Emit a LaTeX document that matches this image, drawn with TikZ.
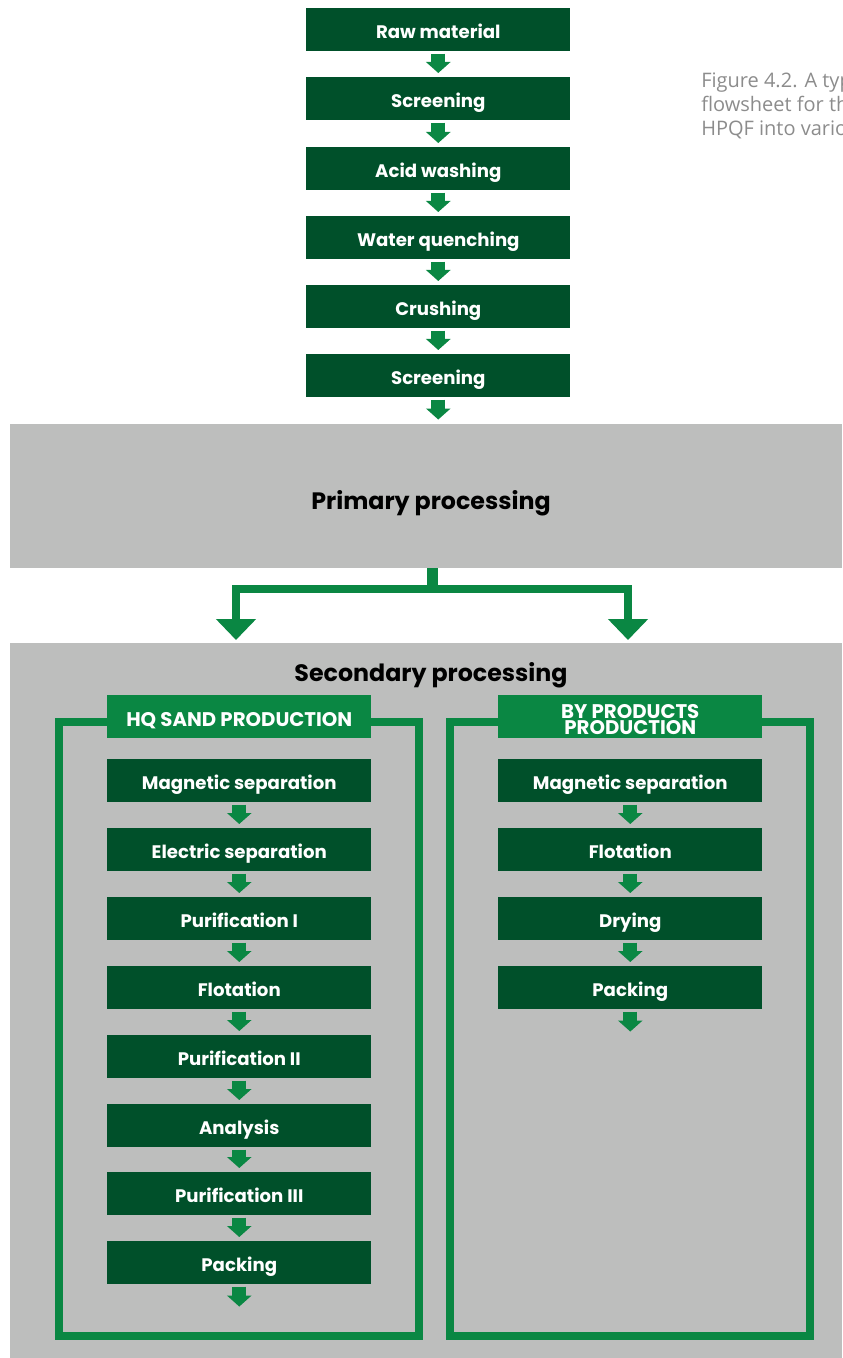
\documentclass[tikz,border=0pt]{standalone}
\usepackage{fontspec}
\setmainfont{Poppins}
\newfontfamily\capfont{Open Sans}
\usetikzlibrary{arrows.meta,calc}
\definecolor{dkgreen}{HTML}{00502A}
\definecolor{ltgreen}{HTML}{0A8743}
\definecolor{panelgray}{HTML}{BDBEBD}
\definecolor{capgray}{HTML}{8C8C8C}
\begin{document}
\begin{tikzpicture}[x=0.75pt,y=-0.75pt,
  stepbox/.style={fill=dkgreen,text=white,font=\bfseries\fontsize{13.6}{15}\selectfont,
    minimum width=198pt,minimum height=32.25pt,inner sep=0pt,anchor=north west,
    text height=13.3pt,text depth=0pt},
  headbox/.style={fill=ltgreen,text=white,font=\bfseries\fontsize{14.8}{12}\selectfont,
    minimum width=198pt,minimum height=32.25pt,inner sep=0pt,anchor=north west,align=center},
  flow/.style={draw=ltgreen,line width=10.5pt,-{Triangle[length=8.25pt,width=18pt]}},
  branch/.style={draw=ltgreen,line width=6pt,-{Triangle[length=15.75pt,width=29.25pt]}},
  frame/.style={draw=ltgreen,line width=6pt},
  graybox/.style={fill=panelgray,inner sep=0pt,anchor=north west,minimum width=624pt},
  title/.style={font=\bfseries\fontsize{17.8}{19}\selectfont,text=black}
]
\useasboundingbox (0,0) rectangle (842,1358);
\clip (0,0) rectangle (842,1358);

% caption
\node[anchor=base west,font=\capfont\fontsize{15}{18}\selectfont,text=capgray,align=left,inner sep=0pt]
  (cap) at (701,136) {Figure 4.2. A typical\\flowsheet for the\\HPQF into various};

% top chain
\node[stepbox] (t1) at (306,8) {Raw material};
\node[stepbox] (t2) at (306,77) {Screening};
\node[stepbox] (t3) at (306,147) {Acid washing};
\node[stepbox] (t4) at (306,216) {Water quenching};
\node[stepbox] (t5) at (306,285) {Crushing};
\node[stepbox] (t6) at (306,354) {Screening};

% primary
\node[graybox,minimum height=108pt] (prim) at (10,424) {};
\node[title] (primt) at (431,503) {Primary processing};

\foreach \a/\b in {t1/t2,t2/t3,t3/t4,t4/t5,t5/t6}
  \draw[flow] ($(\a.south)+(0,2)$) -- ($(\b.north)+(0,-4)$);
\draw[flow] ($(t6.south)+(0,2)$) -- ($(t6.south)+(0,22)$);

% secondary
\node[graybox,minimum height=536.25pt] (sec) at (10,643) {};
\node[title] (sect) at (431,675) {Secondary processing};

% branch
\coordinate (bj) at (432,589);
\draw[draw=ltgreen,line width=8.25pt] (432,568) -- (432,592);
\draw[branch] (bj) -| (236,640);
\draw[branch] (bj) -| (628,640);

% frames
\draw[frame] (59,722) rectangle (419,1336);
\draw[frame] (450,722) rectangle (810,1336);

% left panel
\node[headbox,text height=14.2pt,text depth=0pt] (hl) at (107,695) {HQ SAND PRODUCTION};
\node[stepbox] (l1) at (107,759) {Magnetic separation};
\node[stepbox] (l2) at (107,828) {Electric separation};
\node[stepbox] (l3) at (107,897) {Purification I};
\node[stepbox] (l4) at (107,966) {Flotation};
\node[stepbox] (l5) at (107,1035) {Purification II};
\node[stepbox] (l6) at (107,1104) {Analysis};
\node[stepbox] (l7) at (107,1172) {Purification III};
\node[stepbox] (l8) at (107,1241) {Packing};
\foreach \a/\b in {l1/l2,l2/l3,l3/l4,l4/l5,l5/l6,l6/l7,l7/l8}
  \draw[flow] ($(\a.south)+(0,2)$) -- ($(\b.north)+(0,-4)$);
\draw[flow] ($(l8.south)+(0,2)$) -- ($(l8.south)+(0,22)$);

% right panel
\node[headbox,text height=26.9pt,text depth=0pt] (hr) at (498,695) {BY PRODUCTS\\PRODUCTION};
\node[stepbox] (r1) at (498,759) {Magnetic separation};
\node[stepbox] (r2) at (498,828) {Flotation};
\node[stepbox] (r3) at (498,897) {Drying};
\node[stepbox] (r4) at (498,966) {Packing};
\foreach \a/\b in {r1/r2,r2/r3,r3/r4}
  \draw[flow] ($(\a.south)+(0,2)$) -- ($(\b.north)+(0,-4)$);
\draw[flow] ($(r4.south)+(0,2)$) -- ($(r4.south)+(0,22)$);
\end{tikzpicture}
\end{document}
